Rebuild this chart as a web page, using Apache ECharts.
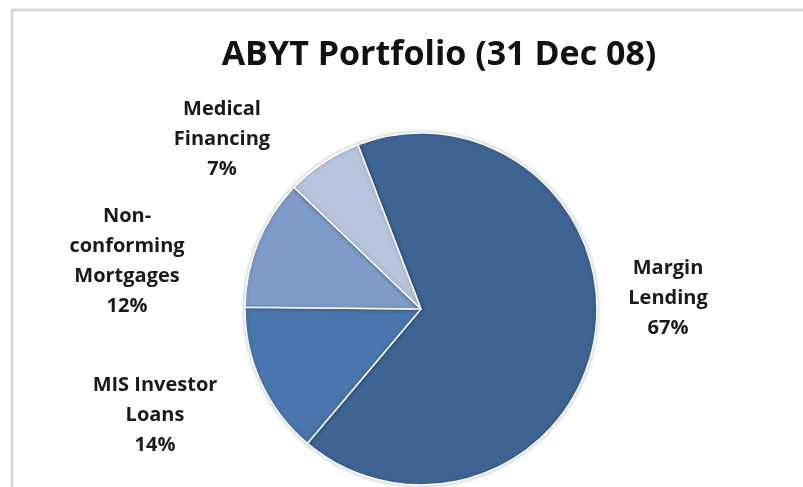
<!DOCTYPE html>
<html>
<head>
<meta charset="utf-8">
<script src="https://cdn.jsdelivr.net/npm/echarts@6/dist/echarts.min.js"></script>
<style>
  html, body { margin: 0; padding: 0; background: #fff; }
  #chart { width: 803px; height: 487px; }
</style>
</head>
<body>
<div id="chart"></div>
<script>
// portfolio split
const categories = ["Margin\nLending", "MIS Investor\nLoans", "Non-\nconforming\nMortgages", "Medical\nFinancing"];
const shares = [67, 14, 12, 7];
const colors = ["#3e6494", "#4a76ad", "#7e9bc9", "#b6c4de"];

// label centres relative to the pie centre (Excel "best fit" placement)
const labelOffsets = [[247, -11], [-266, 106], [-294, -48], [-199, -170]];

const cx = 421;
const cy = 309;

const chart = echarts.init(document.getElementById("chart"), null, { renderer: "canvas" });

chart.setOption({
  animation: false,
  title: {
    text: "ABYT Portfolio (31 Dec 08)",
    left: 434,
    top: 33,
    textAlign: "center",
    textStyle: {
      fontFamily: "Open Sans",
      fontWeight: "bold",
      fontSize: 34,
      color: "#111",
    },
  },
  graphic: [
    {
      type: "rect",
      shape: { x: 12, y: 10, width: 900, height: 600 },
      style: { fill: "none", stroke: "#d9d9d9", lineWidth: 3 },
      silent: true,
    },
  ],
  series: [
    {
      type: "pie",
      center: [cx, cy],
      radius: 176,
      startAngle: 111,
      clockwise: true,
      percentPrecision: 0,
      data: categories.map((name, i) => ({
        name,
        value: shares[i],
        itemStyle: { color: colors[i] },
      })),
      itemStyle: {
        borderColor: "#fff",
        borderWidth: 1.5,
        shadowBlur: 4,
        shadowColor: "rgba(0,0,0,0.25)",
      },
      label: {
        show: true,
        position: "outside",
        formatter: "{b}\n{d}%",
        fontFamily: "Open Sans",
        fontWeight: "bold",
        fontSize: 20,
        lineHeight: 30,
        color: "#1a1a1a",
        align: "center",
      },
      labelLine: { show: false },
      labelLayout: (p) => ({
        x: cx + labelOffsets[p.dataIndex][0],
        y: cy + labelOffsets[p.dataIndex][1],
        align: "center",
        verticalAlign: "middle",
      }),
      emphasis: { disabled: true },
    },
  ],
});
</script>
</body>
</html>
